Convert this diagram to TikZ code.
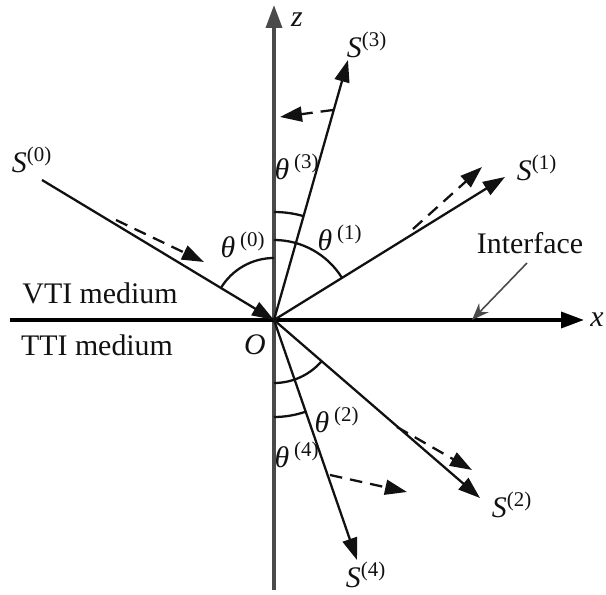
\documentclass[tikz,border=0pt]{standalone}
\usepackage{fontspec}
\setmainfont{Liberation Serif}
\usetikzlibrary{arrows.meta}
\definecolor{ink}{HTML}{111111}
\definecolor{axisg}{HTML}{4A4A4A}
\newcommand{\slbl}[1]{\textit{S}\textsuperscript{(#1)}}
\newcommand{\tlbl}[1]{\textit{θ}\,\textsuperscript{(#1)}}
\begin{document}
\begin{tikzpicture}[x=0.02cm, y=0.02cm,
      axis/.style={-{Triangle[length=4.6mm, width=3.2mm]}, line width=2pt},
      ray/.style={-{Triangle[length=4.4mm, width=3mm]}, line width=1.3pt, color=ink},
      wave/.style={-{Triangle[length=4.4mm, width=3mm]}, line width=1.3pt, color=ink, dash pattern=on 2.5mm off 1.6mm},
      angarc/.style={line width=1.3pt, color=ink},
      lbl/.style={inner sep=1pt, font=\fontsize{17}{19}\selectfont, text=ink},
      pointer/.style={-{Stealth[length=3.4mm, width=2.6mm]}, line width=0.9pt, color=axisg}]
    \useasboundingbox (-274,-275) rectangle (332,320);
    \coordinate (O) at (0,0);
    % axes
    \coordinate (xl) at (-264,0);
    \coordinate (xr) at (310,0);
    \coordinate (zb) at (0,-270);
    \coordinate (zt) at (0,315);
    \draw[axis, color=axisg] (zb) -- (zt);
    \draw[axis, color=black] (xl) -- (xr);
    \node[lbl] (xlab) at (323,0) {\textit{x}};
    \node[lbl] (zlab) at (23,300) {\textit{z}};
    \node[lbl] (olab) at (-19,-25) {\textit{O}};
    % wave vectors
    \coordinate (s0) at (-232,140);
    \coordinate (s1) at (231,143);
    \coordinate (s2) at (206,-178);
    \coordinate (s3) at (74,260);
    \coordinate (s4) at (83,-240);
    \draw[ray] (s0) -- (O);
    \draw[ray] (O) -- (s1);
    \draw[ray] (O) -- (s2);
    \draw[ray] (O) -- (s3);
    \draw[ray] (O) -- (s4);
    \node[lbl] (S0) at (-242,160) {\slbl{0}};
    \node[lbl] (S1) at (263,152) {\slbl{1}};
    \node[lbl] (S2) at (238,-185) {\slbl{2}};
    \node[lbl] (S3) at (93,275) {\slbl{3}};
    \node[lbl] (S4) at (92,-255) {\slbl{4}};
    % polarization
    \coordinate (p0a) at (-158,100);
    \coordinate (p0b) at (-70,58);
    \coordinate (p1a) at (139,91);
    \coordinate (p1b) at (208,153);
    \coordinate (p2a) at (123,-107);
    \coordinate (p2b) at (198,-150);
    \coordinate (p3a) at (59,210);
    \coordinate (p3b) at (6,203);
    \coordinate (p4a) at (56,-155);
    \coordinate (p4b) at (133,-172);
    \draw[wave] (p0a) -- (p0b);
    \draw[wave] (p1a) -- (p1b);
    \draw[wave] (p2a) -- (p2b);
    \draw[wave] (p3a) -- (p3b);
    \draw[wave] (p4a) -- (p4b);
    % angles
    \draw[angarc] (O) ++(90:62) arc (90:148.9:62);
    \draw[angarc] (O) ++(31.8:80) arc (31.8:90:80);
    \draw[angarc] (O) ++(74.1:108) arc (74.1:90:108);
    \draw[angarc] (O) ++(-90:63) arc (-90:-40.8:63);
    \draw[angarc] (O) ++(-90:97) arc (-90:-70.9:97);
    \node[lbl] (t0) at (-31,75) {\tlbl{0}};
    \node[lbl] (t1) at (66,82) {\tlbl{1}};
    \node[lbl] (t2) at (63,-100) {\tlbl{2}};
    \node[lbl] (t3) at (23,153) {\tlbl{3}};
    \node[lbl] (t4) at (23,-135) {\tlbl{4}};
    % media
    \node[lbl] (vti) at (-174,27) {VTI medium};
    \node[lbl] (tti) at (-177,-25) {TTI medium};
    \node[lbl] (intf) at (256,77) {Interface};
    \coordinate (ia) at (253,57);
    \coordinate (ib) at (198,0);
    \draw[pointer] (ia) -- (ib);
  \end{tikzpicture}
\end{document}
